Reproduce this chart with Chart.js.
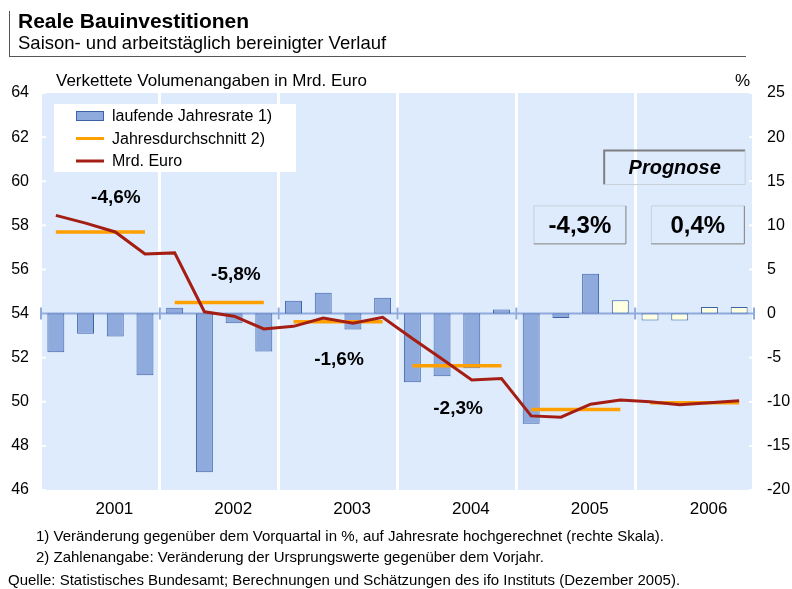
<!DOCTYPE html>
<html>
<head>
<meta charset="utf-8">
<script src="https://cdn.jsdelivr.net/npm/chart.js@4.4.1/dist/chart.umd.min.js"></script>
<style>
  body { margin: 0; background: #fff; font-family: 'Liberation Sans', Arial, sans-serif; }
  #wrap { position: relative; width: 792px; height: 589px; overflow: hidden; }
  canvas { position: absolute; left: 0; top: 0; }
  .t { position: absolute; white-space: nowrap; color: #000; line-height: 1; }
</style>
</head>
<body>
<div id="wrap">
  <canvas id="chart" width="792" height="589"></canvas>
  <div style="position:absolute;left:9px;top:11px;width:736px;height:45px;border-left:1px solid #555;border-bottom:1px solid #555;"></div>
  <div class="t" style="left:18px;top:10px;font-size:21px;font-weight:bold;">Reale Bauinvestitionen</div>
  <div class="t" style="left:18px;top:34px;font-size:18.5px;">Saison- und arbeitstäglich bereinigter Verlauf</div>
  <div class="t" style="left:56px;top:72px;font-size:17px;">Verkettete Volumenangaben in Mrd. Euro</div>
  <div class="t" style="left:735px;top:72px;font-size:17px;">%</div>
  <div class="t" style="left:36px;top:528px;font-size:15px;">1) Veränderung gegenüber dem Vorquartal in %, auf Jahresrate hochgerechnet (rechte Skala).</div>
  <div class="t" style="left:36px;top:549px;font-size:15px;">2) Zahlenangabe: Veränderung der Ursprungswerte gegenüber dem Vorjahr.</div>
  <div class="t" style="left:8px;top:572px;font-size:15px;">Quelle: Statistisches Bundesamt; Berechnungen und Schätzungen des ifo Instituts (Dezember 2005).</div>
</div>
<script>
// Jahre und Quartale
const years = ['2001', '2002', '2003', '2004', '2005', '2006'];
const quarters = years.flatMap(y => ['I/' + y, 'II/' + y, 'III/' + y, 'IV/' + y]);

// laufende Jahresrate in % (rechte Skala)
const jahresrate = [
  -4.4, -2.3, -2.6, -7.0,
  0.65, -18.0, -1.1, -4.3,
  1.45, 2.35, -1.8, 1.8,
  -7.8, -7.1, -6.2, 0.45,
  -12.5, -0.5, 4.5, 1.5,
  -0.8, -0.8, 0.75, 0.75
];

// Mrd. Euro, verkettet (linke Skala)
const mrdEuro = [
  58.45, 58.1, 57.7, 56.7,
  56.75, 54.08, 53.88, 53.3,
  53.42, 53.8, 53.56, 53.83,
  52.87, 51.94, 50.99, 51.05,
  49.36, 49.3, 49.89, 50.08,
  50.0, 49.86, 49.96, 50.05
];

// Jahresdurchschnitt (linke Skala) und Veränderung zum Vorjahr
const jahresdurchschnitt = [57.7, 54.5, 53.63, 51.63, 49.65, 49.96];
const jahresAenderung = ['-4,6%', '-5,8%', '-1,6%', '-2,3%', '-4,3%', '0,4%'];

// ab diesem Quartal Prognose (IV/2005)
const prognoseAb = 19;

const FONT = "'Liberation Sans', Arial, sans-serif";
const BLUE_FILL = '#8faadc';
const BLUE_EDGE = '#3b62a8';
const PROG_FILL = '#ffffe1';
const ORANGE = '#ffa000';
const DARKRED = '#a41e14';

const avgSeries = quarters.map((q, i) => jahresdurchschnitt[Math.floor(i / 4)]);

// Beschriftungen im Diagramm (x in Quartalsindex, y in Mrd. Euro)
const notes = [
  { text: jahresAenderung[0], x: 2.02, y: 59.3, size: 19 },
  { text: jahresAenderung[1], x: 6.06, y: 55.8, size: 19 },
  { text: jahresAenderung[2], x: 9.53, y: 51.94, size: 19 },
  { text: jahresAenderung[3], x: 13.54, y: 49.73, size: 19 },
  { text: jahresAenderung[4], x: 17.64, y: 58.02, size: 24, box: [92, 38], raised: false },
  { text: jahresAenderung[5], x: 21.61, y: 58.02, size: 24, box: [93, 38], raised: false },
  { text: 'Prognose', x: 20.83, y: 60.62, size: 20, italic: true, box: [141, 34], raised: true }
];

const decoration = {
  id: 'decoration',
  beforeDraw(chart) {
    const { ctx, chartArea: a } = chart;
    ctx.save();
    ctx.fillStyle = '#deebfc';
    ctx.fillRect(a.left, a.top, a.right - a.left, a.bottom - a.top);
    ctx.restore();
  },
  beforeDatasetsDraw(chart) {
    const { ctx, chartArea: a, scales } = chart;
    ctx.save();
    // kleine weisse Striche an den Achsen
    ctx.fillStyle = '#ffffff';
    scales.y.ticks.forEach((t, i) => {
      const y = scales.y.getPixelForTick(i);
      ctx.fillRect(a.left, y - 1, 5, 2);
      ctx.fillRect(a.right - 5, y - 1, 5, 2);
    });
    // Nulllinie der rechten Skala
    const y0 = scales.y1.getPixelForValue(0);
    ctx.strokeStyle = '#8faadc';
    ctx.lineWidth = 2;
    ctx.beginPath();
    ctx.moveTo(a.left - 1, y0);
    ctx.lineTo(a.right + 1, y0);
    for (let i = 0; i <= years.length; i++) {
      const x = scales.x.getPixelForValue(i * 4 - 0.5);
      ctx.moveTo(x, y0 - 6);
      ctx.lineTo(x, y0 + 6);
    }
    ctx.stroke();
    ctx.restore();
  },
  afterDatasetsDraw(chart) {
    const { ctx, scales } = chart;
    ctx.save();
    notes.forEach(n => {
      const cx = scales.x.getPixelForValue(n.x);
      const cy = scales.y.getPixelForValue(n.y);
      if (n.box) {
        const [w, h] = n.box;
        const l = cx - w / 2, t = cy - h / 2;
        const dark = '#7f7f7f', light = '#c8d0da';
        ctx.lineWidth = n.raised ? 2 : 1;
        ctx.strokeStyle = n.raised ? dark : light;
        ctx.beginPath();
        ctx.moveTo(l, t + h); ctx.lineTo(l, t); ctx.lineTo(l + w, t);
        ctx.stroke();
        ctx.lineWidth = 1;
        ctx.strokeStyle = n.raised ? light : dark;
        ctx.beginPath();
        ctx.moveTo(l + w, t); ctx.lineTo(l + w, t + h); ctx.lineTo(l, t + h);
        ctx.stroke();
      }
      ctx.fillStyle = '#000';
      ctx.font = (n.italic ? 'italic ' : '') + 'bold ' + n.size + 'px ' + FONT;
      ctx.textAlign = 'center';
      ctx.textBaseline = 'middle';
      ctx.fillText(n.text, cx, cy + 1);
    });
    ctx.restore();
  },
  afterDraw(chart) {
    // Legende im Diagramm
    const { ctx, chartArea: a } = chart;
    const left = a.left + 13, top = a.top + 11;
    ctx.save();
    ctx.fillStyle = '#ffffff';
    ctx.fillRect(left, top, 242, 68);
    ctx.font = '16px ' + FONT;
    ctx.textBaseline = 'middle';
    ctx.textAlign = 'left';
    chart.data.datasets.forEach((ds, i) => {
      const y = top + 12 + i * 22.5;
      const sx = left + 22;
      if (ds.type === 'bar') {
        ctx.fillStyle = BLUE_FILL;
        ctx.fillRect(sx, y - 5, 28, 10);
        ctx.strokeStyle = BLUE_EDGE;
        ctx.lineWidth = 1;
        ctx.strokeRect(sx + 0.5, y - 4.5, 27, 9);
      } else {
        ctx.strokeStyle = ds.borderColor;
        ctx.lineWidth = 3;
        ctx.beginPath();
        ctx.moveTo(sx, y);
        ctx.lineTo(sx + 28, y);
        ctx.stroke();
      }
      ctx.fillStyle = '#000';
      ctx.fillText(ds.label, left + 58, y + 1);
    });
    ctx.restore();
  }
};

new Chart(document.getElementById('chart'), {
  data: {
    labels: quarters,
    datasets: [
      {
        type: 'bar',
        label: 'laufende Jahresrate 1)',
        data: jahresrate,
        yAxisID: 'y1',
        backgroundColor: quarters.map((q, i) => i >= prognoseAb ? PROG_FILL : BLUE_FILL),
        borderColor: BLUE_EDGE,
        borderWidth: 1,
        borderSkipped: false,
        barPercentage: 0.57,
        categoryPercentage: 1,
        order: 3
      },
      {
        type: 'line',
        label: 'Jahresdurchschnitt 2)',
        data: avgSeries,
        yAxisID: 'y',
        borderColor: ORANGE,
        borderWidth: 3.5,
        pointRadius: 0,
        segment: {
          borderColor: c => (c.p0DataIndex % 4 === 3 ? 'transparent' : ORANGE)
        },
        order: 2
      },
      {
        type: 'line',
        label: 'Mrd. Euro',
        data: mrdEuro,
        yAxisID: 'y',
        borderColor: DARKRED,
        borderWidth: 3,
        pointRadius: 0,
        tension: 0,
        order: 1
      }
    ]
  },
  options: {
    responsive: false,
    animation: false,
    devicePixelRatio: 1,
    layout: { padding: { left: 10, right: 0, top: 93, bottom: 69 } },
    plugins: {
      legend: { display: false },
      tooltip: { enabled: false }
    },
    scales: {
      x: {
        type: 'category',
        display: false,
        offset: true
      },
      x2: {
        type: 'category',
        labels: years,
        position: 'bottom',
        offset: true,
        grid: { offset: true, color: '#ffffff', lineWidth: 3, drawTicks: false },
        border: { display: false },
        ticks: { color: '#000', font: { family: FONT, size: 17 }, padding: 9, labelOffset: 14 },
        afterFit: s => { s.height = 30; }
      },
      y: {
        position: 'left',
        min: 46,
        max: 64,
        ticks: { stepSize: 2, color: '#000', font: { family: FONT, size: 16 }, padding: 12 },
        grid: { display: false, drawTicks: false },
        border: { display: false },
        afterFit: s => { s.width = 31; }
      },
      y1: {
        position: 'right',
        min: -20,
        max: 25,
        ticks: { stepSize: 5, color: '#000', font: { family: FONT, size: 16 }, padding: 13 },
        grid: { display: false, drawTicks: false },
        border: { display: false },
        afterFit: s => { s.width = 38; }
      }
    }
  },
  plugins: [decoration]
});
</script>
</body>
</html>
